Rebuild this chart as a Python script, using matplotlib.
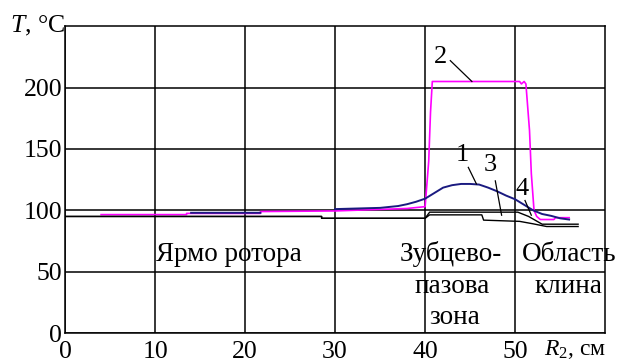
import numpy as np
import matplotlib
matplotlib.use("Agg")
import matplotlib.pyplot as plt

plt.rcParams["font.family"] = ["Liberation Serif", "DejaVu Serif"]
plt.rcParams["mathtext.fontset"] = "custom"
plt.rcParams["mathtext.rm"] = "Liberation Serif"
plt.rcParams["mathtext.it"] = "Liberation Serif:italic"

# curve 1 (navy): temperature along radius, cm / degC
r1 = [14, 21.7, np.nan, 30, 35, 37, 38, 39, 40, 41, 42, 43, 44, 45, 46, 47,
      48, 49, 50, 51, 52, 53, 54, 55, 56]
t1 = [98, 98, np.nan, 101, 102, 103.5, 105, 107, 109.5, 114, 118.5, 120.5,
      121.5, 121.5, 121, 118.5, 115.5, 112, 109, 104.5, 100, 97, 95.5, 93.5, 92.5]

# curve 2 (magenta)
r2 = [4, 13.5, 13.5, 21.7, 21.7, 30, 38, 40, 40.4, 40.6, 40.8, 46, 50.5, 50.7,
      51.0, 51.2, 51.6, 51.8, 52.1, 52.4, 52.8, 54.3, 54.5, 56]
t2 = [96.5, 96.5, 97.5, 97.5, 99, 99.5, 101.5, 103, 140, 180, 205, 205, 205,
      203, 205, 203, 165, 130, 100, 95, 92.5, 92.5, 94, 94]

# curves 3 and 4 (black)
r3 = [0, 28.5, 28.5, 40, 40.5, 50.3, 51.5, 53, 57]
t3 = [95, 95, 93.5, 93.5, 98.5, 98.5, 95, 88.7, 88.7]
r4 = [0, 28.5, 28.5, 40, 40.5, 46.3, 46.5, 50.5, 52, 53.5, 57]
t4 = [95, 95, 93.5, 93.5, 96.3, 96.3, 92, 91, 89, 86.8, 86.8]

x_ticks = [0, 10, 20, 30, 40, 50]
y_ticks = [0, 50, 100, 150, 200]

# curve labels: (text, text pos, leader start, leader end)
curve_labels = [
    ("2", (41.7, 225), (42.8, 222), (45.2, 205)),
    ("1", (44.1, 145), (44.8, 135), (45.7, 121.5)),
    ("3", (47.2, 137), (47.8, 124), (48.5, 96)),
    ("4", (50.8, 117), (51.1, 108), (51.8, 96)),
]

zones = [
    ("Ярмо ротора", 10.1, 64, "left"),
    ("Зубцево-", 37.2, 64, "left"),
    ("пазова", 43.0, 38, "center"),
    ("зона", 43.3, 13, "center"),
    ("Область", 50.7, 64, "left"),
    ("клина", 55.9, 38, "center"),
]

fig = plt.figure(figsize=(6.2, 3.63), dpi=100, facecolor="white")
ax = fig.add_axes([0.105, 0.0826, 0.871, 0.845])

ax.plot(r2, t2, color="#ff00ff", lw=1.2, zorder=3)
ax.plot(r1, t1, color="#1a1a80", lw=1.4, zorder=4)
ax.plot(r3, t3, color="black", lw=1.0, zorder=3)
ax.plot(r4, t4, color="black", lw=1.0, zorder=3)

for txt, (tx, ty), (x0, y0), (x1, y1) in curve_labels:
    ax.text(tx, ty, txt, fontsize=19, ha="center", va="center", zorder=5)
    ax.plot([x0, x1], [y0, y1], color="black", lw=0.9, zorder=5)

for txt, x, y, ha in zones:
    ax.text(x, y, txt, fontsize=19.5, ha=ha, va="center", zorder=5)

ax.set_xlim(0, 60)
ax.set_ylim(0, 250)
ax.set_xticks(x_ticks)
ax.set_yticks(y_ticks)
ax.tick_params(length=0, labelsize=18.5)
ax.tick_params(axis="x", pad=6)
ax.tick_params(axis="y", pad=2)
ax.grid(True, color="black", lw=1.1)
ax.set_axisbelow(True)
for s in ax.spines.values():
    s.set_color("black")
    s.set_linewidth(1.1)

ax.text(0.0, 1.0, "$T$, °C", transform=ax.transAxes, ha="right", va="center",
        fontsize=18.5)
ax.text(53.2, -0.055, "$R_2$, см", transform=ax.get_xaxis_transform(),
        ha="left", va="center", fontsize=17)

fig.savefig("out.png", dpi=100)
